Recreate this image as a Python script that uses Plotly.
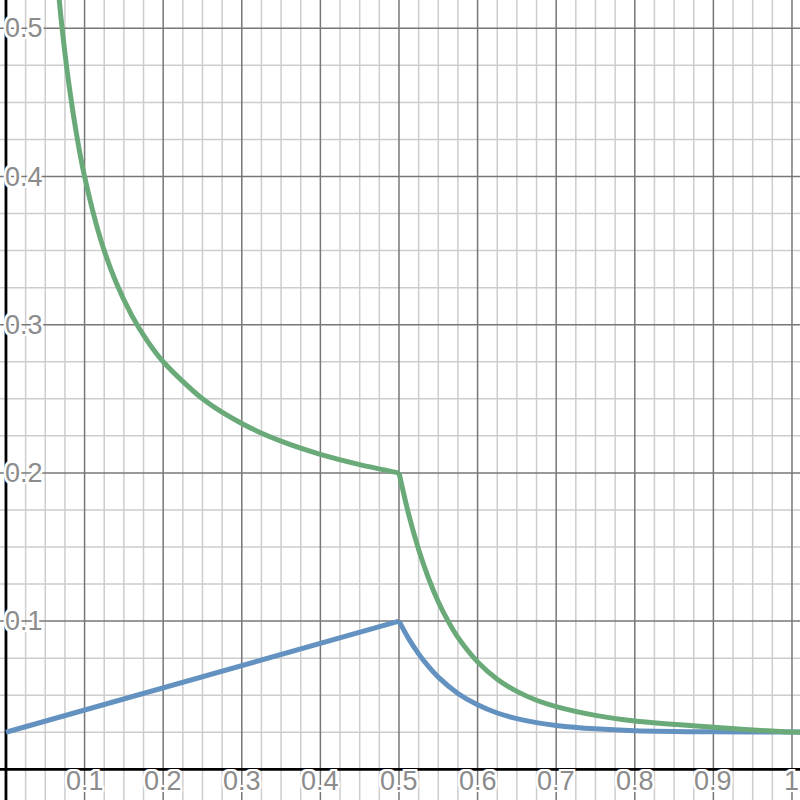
import plotly.graph_objects as go

# curva blu: tratto lineare fino a 0.5, poi decadimento
blu_sx_x = [0.0, 0.5]
blu_sx_y = [0.025, 0.1]
blu_dx_x = [0.5, 0.5125, 0.525, 0.5375, 0.55, 0.575, 0.6, 0.625, 0.65, 0.675, 0.7, 0.75, 0.8, 0.9, 1.0, 1.02]
blu_dx_y = [0.1, 0.0880, 0.0779, 0.0694, 0.0622, 0.0512, 0.0435, 0.0380, 0.0342, 0.0315, 0.0296, 0.0273,
            0.0261, 0.0253, 0.0251, 0.0251]

# curva verde: ramo sinistro e ramo destro
verde_sx_x = [0.06, 0.07, 0.08, 0.09, 0.10, 0.12, 0.14, 0.16, 0.18, 0.20, 0.25, 0.30, 0.35, 0.40, 0.45, 0.50]
verde_sx_y = [0.5667, 0.5071, 0.4625, 0.4278, 0.40, 0.3583, 0.3286, 0.3063, 0.2889, 0.275, 0.25, 0.2333,
              0.2214, 0.2125, 0.2056, 0.20]
verde_dx_x = [0.5, 0.5125, 0.525, 0.5375, 0.55, 0.5625, 0.575, 0.6, 0.625, 0.65, 0.675, 0.7, 0.75, 0.8, 0.9, 1.0, 1.02]
verde_dx_y = [0.20, 0.1717, 0.1484, 0.1291, 0.1131, 0.1000, 0.0890, 0.0725, 0.0608, 0.0526, 0.0466, 0.0423,
              0.0364, 0.0326, 0.0284, 0.0251, 0.0251]

tick_x = [0.1, 0.2, 0.3, 0.4, 0.5, 0.6, 0.7, 0.8, 0.9, 1.0]
etichette_x = ["0.1", "0.2", "0.3", "0.4", "0.5", "0.6", "0.7", "0.8", "0.9", "1"]
tick_y = [0.1, 0.2, 0.3, 0.4, 0.5]
etichette_y = ["0.1", "0.2", "0.3", "0.4", "0.5"]

x_range = [-0.0076, 1.0102]
y_range = [-0.0207, 0.5191]

fig = go.Figure()

# griglia: secondaria ogni 0.025, principale ogni 0.1
griglia_minore = dict(color="#cdcdcd", width=1.5)
griglia_maggiore = dict(color="#777777", width=1.5)
for i in range(-1, 42):
    v = i * 0.025
    if i % 4 == 0:
        continue
    if x_range[0] <= v <= x_range[1]:
        fig.add_shape(type="line", x0=v, x1=v, y0=y_range[0], y1=y_range[1], line=griglia_minore, layer="below")
    if y_range[0] <= v <= y_range[1]:
        fig.add_shape(type="line", x0=x_range[0], x1=x_range[1], y0=v, y1=v, line=griglia_minore, layer="below")
for i in range(1, 11):
    v = i * 0.1
    fig.add_shape(type="line", x0=v, x1=v, y0=y_range[0], y1=y_range[1], line=griglia_maggiore, layer="below")
    if v <= y_range[1]:
        fig.add_shape(type="line", x0=x_range[0], x1=x_range[1], y0=v, y1=v, line=griglia_maggiore, layer="below")

# assi
fig.add_shape(type="line", x0=0, x1=0, y0=y_range[0], y1=y_range[1], line=dict(color="black", width=2.8), layer="below")
fig.add_shape(type="line", x0=x_range[0], x1=x_range[1], y0=0, y1=0, line=dict(color="black", width=2.8), layer="below")

blu = "#6392c1"
verde = "#6aaa79"
for xs, ys, colore in [(blu_sx_x, blu_sx_y, blu), (blu_dx_x, blu_dx_y, blu),
                       (verde_sx_x, verde_sx_y, verde), (verde_dx_x, verde_dx_y, verde)]:
    fig.add_trace(go.Scatter(x=xs, y=ys, mode="lines",
                             line=dict(color=colore, width=5, shape="spline", smoothing=0.8),
                             showlegend=False, hoverinfo="skip"))

alone = "-2px -2px 0 white, 2px -2px 0 white, -2px 2px 0 white, 2px 2px 0 white, 0 2px 0 white, 0 -2px 0 white, 2px 0 0 white, -2px 0 0 white"
font_tick = dict(family="Arial, Liberation Sans", size=27, color="#8c8c8c", shadow=alone)

for v, t in zip(tick_x, etichette_x):
    fig.add_annotation(x=v, y=0, text=t, showarrow=False, xanchor="center", yanchor="top", yshift=5, font=font_tick)
for v, t in zip(tick_y, etichette_y):
    fig.add_annotation(x=0, y=v, text=t, showarrow=False, xanchor="left", yanchor="middle", xshift=-3, font=font_tick)

fig.update_layout(
    width=800, height=800,
    margin=dict(l=0, r=0, t=0, b=0),
    plot_bgcolor="white", paper_bgcolor="white",
    xaxis=dict(range=x_range, showgrid=False, zeroline=False, showticklabels=False, fixedrange=True),
    yaxis=dict(range=y_range, showgrid=False, zeroline=False, showticklabels=False, fixedrange=True),
)

# la pagina ha un margine di default: lo tolgo per allineare il grafico alla finestra
fig.write_html("out.html", config={"displayModeBar": False},
               post_script="document.body.style.margin='0';")
